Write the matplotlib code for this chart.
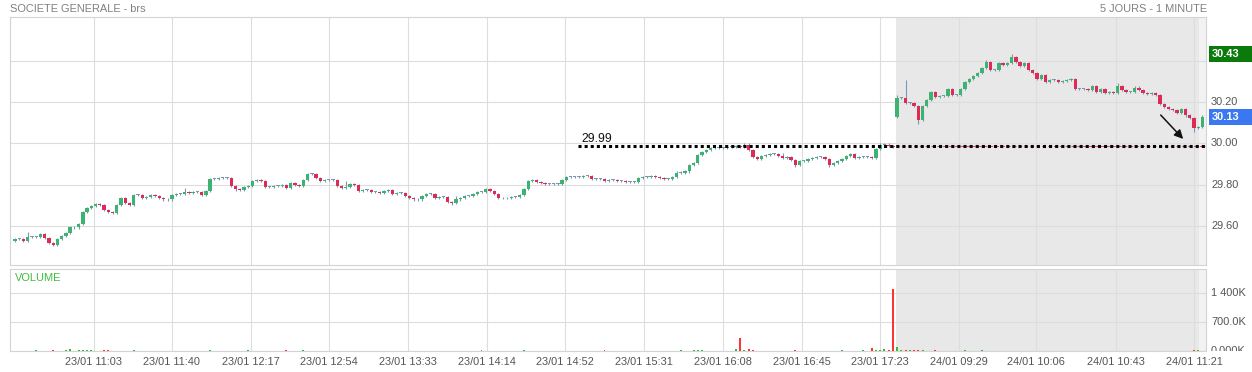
import matplotlib
matplotlib.use("Agg")
import matplotlib.pyplot as plt
from matplotlib.patches import Rectangle
from matplotlib.transforms import blended_transform_factory

plt.rcParams['font.family'] = ['Liberation Sans', 'DejaVu Sans']

W, H = 1252, 372

title_left = "SOCIETE GENERALE - brs"
title_right = "5 JOURS - 1 MINUTE"

# closes (2-minute candles), day 1 then day 2
closes_day1 = [
    29.54, 29.54, 29.53, 29.55, 29.55, 29.55, 29.565, 29.545, 29.52, 29.51,
    29.54, 29.555, 29.57, 29.595, 29.595, 29.61, 29.67, 29.69, 29.70, 29.71,
    29.705, 29.68, 29.67, 29.665, 29.705, 29.735, 29.715, 29.705, 29.75, 29.75,
    29.735, 29.74, 29.75, 29.745, 29.735, 29.73, 29.73, 29.75, 29.755, 29.755,
    29.765, 29.76, 29.765, 29.765, 29.75, 29.77, 29.83, 29.83, 29.835, 29.835,
    29.835, 29.795, 29.78, 29.775, 29.79, 29.795, 29.82, 29.825, 29.82, 29.79,
    29.79, 29.795, 29.795, 29.80, 29.785, 29.81, 29.80, 29.795, 29.825, 29.855,
    29.855, 29.835, 29.82, 29.825, 29.825, 29.825, 29.795, 29.785, 29.79, 29.805,
    29.80, 29.77, 29.775, 29.775, 29.765, 29.765, 29.76, 29.77, 29.775, 29.755,
    29.76, 29.76, 29.745, 29.735, 29.73, 29.73, 29.745, 29.755, 29.755, 29.735,
    29.74, 29.74, 29.72, 29.715, 29.73, 29.735, 29.745, 29.745, 29.755, 29.765,
    29.765, 29.78, 29.77, 29.755, 29.735, 29.735, 29.735, 29.74, 29.74, 29.75,
    29.78, 29.82, 29.825, 29.815, 29.81, 29.805, 29.805, 29.805, 29.805, 29.825,
    29.84, 29.84, 29.84, 29.84, 29.845, 29.845, 29.83, 29.83, 29.83, 29.82,
    29.825, 29.825, 29.82, 29.82, 29.815, 29.815, 29.815, 29.835, 29.84, 29.84,
    29.845, 29.84, 29.835, 29.83, 29.83, 29.84, 29.86, 29.86, 29.865, 29.895,
    29.905, 29.945, 29.96, 29.97, 29.98, 29.98, 29.98, 29.98, 29.985, 29.985,
    29.99, 29.985, 29.995, 29.97, 29.935, 29.925, 29.94, 29.945, 29.95, 29.95,
    29.94, 29.93, 29.935, 29.92, 29.895, 29.915, 29.915, 29.925, 29.93, 29.935,
    29.935, 29.925, 29.895, 29.905, 29.915, 29.925, 29.94, 29.95, 29.93, 29.935,
    29.935, 29.935, 29.93, 29.975, 29.995, 29.995, 29.99, 29.985,
]
closes_day2 = [
    30.22, 30.22,
    30.195, 30.195, 30.18, 30.115, 30.18, 30.21, 30.25, 30.225, 30.23, 30.23,
    30.265, 30.235, 30.235, 30.265, 30.295, 30.31, 30.325, 30.34, 30.365, 30.395,
    30.355, 30.355, 30.39, 30.38, 30.39, 30.415, 30.395, 30.375, 30.39, 30.355,
    30.34, 30.31, 30.33, 30.295, 30.305, 30.305, 30.295, 30.30, 30.305, 30.31,
    30.265, 30.265, 30.265, 30.26, 30.275, 30.25, 30.265, 30.245, 30.25, 30.245,
    30.275, 30.26, 30.25, 30.25, 30.27, 30.26, 30.245, 30.24, 30.245, 30.235,
    30.19, 30.175, 30.165, 30.16, 30.145, 30.165, 30.135, 30.125, 30.075, 30.08, 30.13,
]
session_opens = [29.53, 30.13]

extra_highs = {3: 29.575, 40: 29.785, 78: 29.82, 104: 29.745, 181: 29.955,
               208: 30.235, 210: 30.305, 229: 30.405, 235: 30.43, 260: 30.29}
extra_lows = {9: 29.505, 52: 29.77, 103: 29.705, 184: 29.885, 192: 29.885,
              213: 30.095, 278: 30.055}

# volumes in thousands
volumes = [
    12, 8, 10, 6, 9, 14, 7, 11, 9, 13, 10, 8, 15, 48, 12, 18, 22, 16, 14, 9,
    11, 17, 13, 8, 10, 12, 7, 9, 15, 6, 8, 10, 7, 9, 12, 8, 6, 10, 7, 9,
    8, 11, 6, 9, 7, 10, 14, 9, 8, 6, 7, 12, 9, 8, 10, 13, 9, 7, 8, 11,
    9, 12, 8, 10, 14, 9, 7, 8, 13, 10, 6, 9, 12, 8, 7, 9, 11, 8, 10, 7,
    9, 12, 8, 7, 10, 6, 9, 8, 11, 7, 9, 8, 10, 12, 9, 7, 8, 10, 9, 11,
    8, 9, 12, 7, 10, 8, 9, 11, 8, 7, 25, 9, 8, 10, 7, 9, 12, 8, 10, 9,
    14, 12, 9, 8, 10, 7, 9, 11, 8, 10, 9, 8, 12, 7, 9, 10, 8, 11, 9, 14,
    10, 8, 9, 12, 8, 10, 9, 11, 8, 9, 10, 12, 9, 8, 11, 9, 10, 14, 12, 11,
    15, 18, 13, 10, 12, 9, 11, 10, 9, 12, 50, 310, 14, 40, 18, 12, 10, 11, 9, 10,
    12, 9, 11, 10, 13, 9, 10, 12, 9, 11, 10, 8, 12, 9, 10, 14, 11, 10, 12, 9,
    15, 12, 70, 18, 14, 50, 20, 1500, 90, 30, 25, 18, 14, 20, 16, 12, 10, 14, 11, 9,
    12, 10, 9, 11, 13, 10, 12, 9, 14, 11, 10, 9, 12, 8, 10, 11, 9, 12, 8, 10,
    9, 11, 10, 8, 12, 9, 10, 8, 11, 9, 12, 10, 8, 9, 11, 10, 8, 9, 12, 10,
    9, 11, 8, 10, 12, 9, 10, 8, 11, 9, 12, 10, 9, 11, 8, 10, 9, 12, 20, 14, 11,
]

tick_pos = [18.6, 37.0, 55.6, 74.0, 92.7, 111.3, 129.7, 148.3, 166.9, 185.6,
            204.0, 222.6, 240.8, 259.6, 278.0]
tick_labels = ["23/01 11:03", "23/01 11:40", "23/01 12:17", "23/01 12:54",
               "23/01 13:33", "23/01 14:14", "23/01 14:52", "23/01 15:31",
               "23/01 16:08", "23/01 16:45", "23/01 17:23", "24/01 09:29",
               "24/01 10:06", "24/01 10:43", "24/01 11:21"]
price_ticks = [29.60, 29.80, 30.00, 30.20, 30.40]
vol_ticks = [0, 700, 1400]
vol_tick_labels = ["0.000K", "700.0K", "1 400K"]
ref_level = 29.99
last_price = 30.13
high_price = 30.43

# ---------------------------------------------------------------
closes = closes_day1 + closes_day2
n = len(closes)
starts = {0: session_opens[0], len(closes_day1): session_opens[1]}
opens = [starts[i] if i in starts else closes[i - 1] for i in range(n)]
tick = 0.005
highs = [extra_highs.get(i, max(o, c) + tick) for i, (o, c) in enumerate(zip(opens, closes))]
lows = [extra_lows.get(i, min(o, c) - tick) for i, (o, c) in enumerate(zip(opens, closes))]

GREEN = '#3cb371'
RED = '#de2a55'
DOJI = '#7e96b5'
GRID = '#dddddd'
SHADE = '#e8e8e8'
TXT = '#555555'
FS = 7.9

xmin, xmax = -1.18, 280.83
day2_start = 207.85

fig = plt.figure(figsize=(W / 100, H / 100), dpi=100)
ax = fig.add_axes([10 / W, 1 - 265 / H, 1196 / W, 248 / H])
axv = fig.add_axes([10 / W, 1 - 351 / H, 1196 / W, 82 / H])

for a in (ax, axv):
    a.set_xlim(xmin, xmax)
    a.set_axisbelow(True)
    a.set_xticks(tick_pos)
    a.grid(True, color=GRID, lw=0.8)
    a.tick_params(length=0, labelbottom=False, labelleft=False)
    for s in a.spines.values():
        s.set_color('#d4d4d4')
        s.set_linewidth(0.8)
    a.axvspan(day2_start, xmax, color=SHADE, zorder=0, lw=0)
    a.axvspan(279.2, xmax, color='#f2f2f2', zorder=0, lw=0)

ax.set_ylim(29.414, 30.61)
ax.set_yticks(price_ticks)

# candles
idx = list(range(n))
ax.vlines(idx, lows, highs, colors=DOJI, lw=0.8, zorder=2)
body_bottom = [min(o, c) for o, c in zip(opens, closes)]
body_h = [max(abs(c - o), 0.0045) for o, c in zip(opens, closes)]
body_col = [GREEN if c > o else (RED if c < o else DOJI) for o, c in zip(opens, closes)]
ax.bar(idx, body_h, bottom=body_bottom, width=0.78, color=body_col, lw=0, zorder=3)

# reference level
ax.hlines(ref_level, day2_start, xmax, colors=RED, lw=0.6, linestyles=(0, (4, 3)), zorder=3)
ax.hlines(ref_level, 132.75, xmax, colors='black', lw=2.2, linestyles=(0, (1, 1)), zorder=4)
ax.text(133.6, ref_level + 0.004, f"{ref_level:.2f}", fontsize=8.8, color='#111111',
        va='bottom', ha='left', zorder=5)

ax.annotate('', xy=(275.9, 30.012), xytext=(269.7, 30.147),
            arrowprops=dict(arrowstyle='-|>', color='#111111', lw=1.1, mutation_scale=13),
            zorder=6)

# right price labels (the one under the high-price box is hidden by it)
ytr = ax.get_yaxis_transform()
hbox = 16 * 0.00482
for p in price_ticks:
    if abs(p - high_price) < hbox:
        continue
    ax.text(1 + 5 / 1196, p, f"{p:.2f}", transform=ytr, fontsize=FS, color=TXT,
            va='center', ha='left', clip_on=False)
bt = blended_transform_factory(fig.transFigure, ax.transData)
for val, col in ((high_price, '#0a7a0a'), (last_price, '#3a78f2')):
    r = Rectangle((1209 / W, val - hbox / 2), (W - 1209) / W, hbox, transform=bt,
                  facecolor=col, edgecolor='none', clip_on=False, zorder=10)
    fig.add_artist(r)
    fig.text(1212 / W, 0, f"{val:.2f}", transform=bt, fontsize=FS, color='white',
             fontweight='bold', va='center', ha='left', zorder=11).set_y(val)

# volume
axv.set_ylim(0, 1980)
axv.set_yticks(vol_ticks)
vcol = ['#33bb33' if c >= o else '#ff3333' for o, c in zip(opens, closes)]
axv.bar(idx, volumes, width=0.45, color=vcol, lw=0, zorder=3)
axv.text(5 / 1196, (351 - 278) / 82, "VOLUME", transform=axv.transAxes, fontsize=FS,
         color='#3dbd3d', va='center', ha='left')

axl = fig.add_axes([1206 / W, 1 - 351 / H, 46 / W, 82 / H])
axl.set_ylim(0, 1980)
axl.set_xlim(0, 1)
axl.axis('off')
for v, l in zip(vol_ticks, vol_tick_labels):
    axl.text(5 / 46, v, l, fontsize=FS, color=TXT, va='center', ha='left', clip_on=True)

# time labels
xtr = axv.get_xaxis_transform()
for p, l in zip(tick_pos, tick_labels):
    axv.text(p, -(362 - 351) / 82, l, transform=xtr, fontsize=FS, color=TXT,
             ha='center', va='center', clip_on=False)

fig.text(10 / W, 1 - 9.5 / H, title_left, fontsize=FS, color='#808080', va='center', ha='left')
fig.text(1207 / W, 1 - 9.5 / H, title_right, fontsize=FS, color='#808080', va='center', ha='right')

fig.savefig('out.png', dpi=100)
